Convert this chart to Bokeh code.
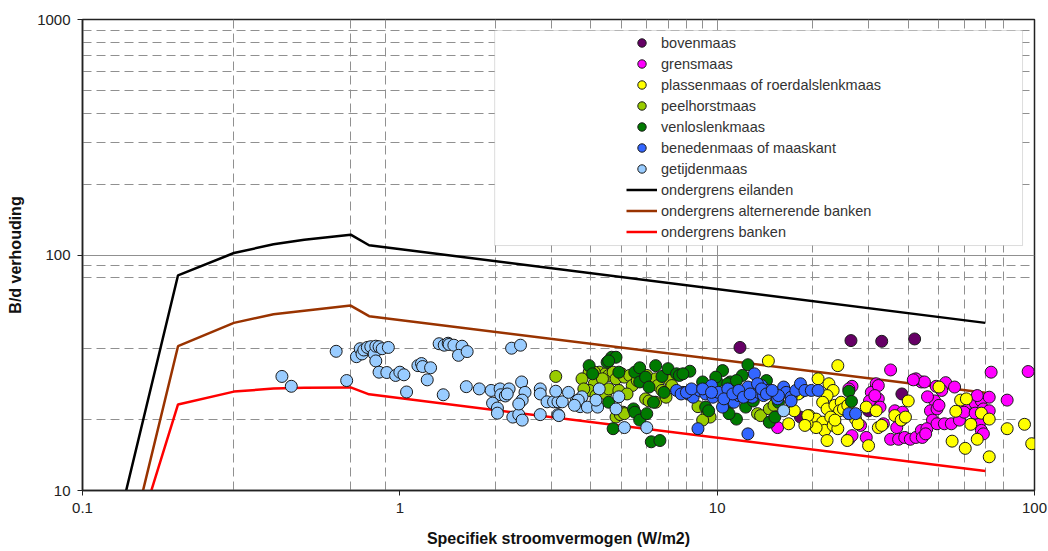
from bokeh.plotting import figure
from bokeh.models import (Range1d, FixedTicker, Grid, BoxAnnotation, Legend,
                          LegendItem, CustomJSTickFormatter)
from bokeh.embed import file_html
from bokeh.resources import INLINE

# ---------------- data ----------------
x_ticks = [0.1, 1, 10, 100]
y_ticks = [10, 100, 1000]
x_grid_major = [10]
x_grid_minor = [0.3, 0.7, 0.9, 2, 3, 4, 5, 6, 7, 8, 9, 20, 30, 40, 50, 60, 70, 80]
y_grid_major = [100]
y_grid_minor = [20, 40, 80, 90, 200, 300, 400, 500, 600, 700, 800, 900]

line_x = [0.1, 0.2, 0.3, 0.4, 0.5, 0.7, 0.8, 70]
eilanden = [1.7, 82, 102, 111, 116, 122, 110, 51.5]
alternerende_banken = [0.87, 41, 51.5, 56, 58, 61, 55, 26]
banken = [1.14, 23.2, 26.3, 27.1, 27.3, 27.4, 25.6, 12.1]

bovenmaas = [(11.8, 40.5), (26.4, 43.3), (33, 43), (41.9, 44), (38.2, 25.7), (30, 21.8),
             (18.3, 20.5), (23.5, 18.9)]

grensmaas = [(35.2, 32.5), (31.7, 28.4), (30.6, 26.1), (26.6, 27.7), (32.2, 24.5), (32.6, 22.6),
             (28.3, 18.9), (29.5, 16.8), (26, 16.5), (33.4, 19.2), (36.3, 21.8), (38.4, 21.5),
             (38, 19.9), (36.8, 18.5), (35.2, 16.5), (37.3, 16.5), (39, 16.8), (40.6, 16.5),
             (42.3, 16.8), (44, 18), (44, 28.9), (42.3, 29.8), (45, 28.9), (48.5, 24), (47, 21.8),
             (49.3, 22.2), (47.7, 19.9), (45.8, 18.3), (44.3, 16.8), (45.4, 17.4), (52.5, 28.7),
             (56, 27.5), (51, 26.6), (49.3, 19.2), (52, 19.2), (54.7, 19.2), (58, 19.9), (60.5, 23),
             (60, 21.5), (65, 23.5), (68, 24), (72, 24.9), (69, 22.2), (72, 21.8), (67, 19.2),
             (68, 18), (69, 17.4), (65, 21.3), (73, 31.8), (82, 24.2), (95.5, 32), (66, 25.3),
             (41.5, 29.5), (49, 27.7), (15.5, 18.5), (26.6, 17.1), (26, 27), (30.2, 24),
             (32.2, 27.9), (31.4, 25.3), (23.5, 19.2), (46, 25), (50, 23)]

plassenmaas = [(24, 33.9), (20.8, 29.8), (22.5, 28.4), (23.2, 26.6), (22.2, 25.3), (21.5, 23.7),
               (22.2, 22.2), (23.5, 23), (24.6, 23.7), (24.3, 21.8), (25, 22.2), (25.8, 23),
               (19.5, 20.8), (20.5, 20.1), (21.5, 19.5), (21.8, 18), (22.8, 20.5), (23.2, 18.9),
               (24, 18.3), (20.5, 18.5), (22.2, 16.3), (25.7, 16.3), (30, 15.5), (27.3, 20.1),
               (27.8, 19.2), (29.5, 22.6), (31.7, 21.8), (32.2, 18.5), (33, 18.9), (40, 24),
               (36.3, 20.8), (38, 19.9), (39.2, 20.5), (50, 27.5), (58.5, 24.2), (61, 24.5),
               (56.5, 21.7), (68, 21.3), (72, 20.1), (63, 19.1), (55, 16.2), (60.5, 15.1),
               (66, 16.5), (72, 13.9), (82, 18.3), (93, 19.1), (98, 15.8), (14.5, 35.5),
               (18.3, 26.1), (16.8, 19.2), (19.2, 19.2), (18, 25.7), (15, 22.2), (19.3, 20.8),
               (18.9, 18.9), (17.5, 21.8), (23.5, 19.9)]

peelhorstmaas = [(3.1, 30.5), (3.95, 31.8), (4.1, 28.4), (4.25, 31.8), (4.35, 30.3), (4.45, 31.3),
                 (4.55, 30.8), (4.7, 31.8), (4.8, 29.8), (5.0, 31.3), (5.1, 30.3), (5.3, 30.8),
                 (5.4, 27.9), (5.6, 29.3), (5.8, 30.3), (6.0, 30.8), (6.2, 28.4), (6.4, 29.8),
                 (6.5, 27.9), (6.7, 26.6), (6.9, 30.8), (7.1, 29.3), (7.2, 27.9), (3.95, 26.6),
                 (4.15, 25.3), (4.45, 25.7), (4.55, 27), (4.9, 26.6), (5.2, 25.7), (5.05, 21.5),
                 (4.8, 20.5), (4.95, 21), (5.95, 24.5), (6.1, 24), (6.4, 23.7), (6.9, 24.9),
                 (3.75, 29.8), (3.8, 27), (4.1, 31.8), (4.35, 29.8), (5.1, 21.2), (8.7, 22.7),
                 (9.3, 21.2), (9.5, 20.5), (13.4, 21.2), (13.7, 20.8), (9.0, 19.9), (14.6, 22.2),
                 (15.1, 23)]

venloslenkmaas = [(3.95, 33.9), (4.5, 35), (4.65, 36.8), (4.8, 36.8), (4.55, 35.5), (4.05, 31.3),
                  (4.9, 31.8), (5.5, 31.8), (5.7, 33.2), (5.7, 28.9), (5.95, 30.3), (6.1, 27.5),
                  (6.4, 33.9), (6.7, 30.5), (7.0, 32.9), (7.45, 31.3), (6.8, 26.1), (6.3, 23.7),
                  (4.55, 23.7), (5.45, 22.2), (5.5, 21.5), (5.7, 19.9), (6.0, 21.2), (4.7, 18.3),
                  (6.2, 16.1), (6.6, 16.3), (7.6, 30.8), (8.2, 32.1), (9.0, 28.9), (10.0, 28.9),
                  (10.4, 32.3), (11.0, 28.9), (12.0, 30.8), (12.5, 34.2), (9.2, 22.6), (9.4, 21.8),
                  (11.5, 20.1), (14.6, 19.5), (15.2, 20.5), (7.8, 31.3), (8.3, 25.7), (9.9, 30.3),
                  (10.8, 28.4), (11.5, 29.3), (11.1, 23.7), (10.9, 21.2), (14.3, 29.3), (12.3, 22.6),
                  (13.0, 24), (15.6, 23.7), (26, 26.4), (26.5, 23.9)]

benedenmaas = [(7.8, 26.1), (8.1, 25.7), (8.4, 24.9), (8.8, 26.6), (9.2, 25.7), (9.6, 27.9),
               (9.7, 24.9), (10.1, 26.1), (10.4, 22.6), (10.8, 27), (11.3, 23.7), (11.7, 25.3),
               (12.1, 26.1), (12.5, 27.5), (13.1, 31.3), (12.9, 24.9), (13.5, 26.1), (13.8, 27.9),
               (14.0, 25.3), (14.5, 26.6), (15.0, 25.7), (15.5, 24.5), (16.2, 27.5), (16.5, 26.1),
               (17.1, 24.9), (17.7, 26.6), (18.3, 28.4), (15.6, 25.3), (8.7, 18.3), (12.5, 17.4),
               (7.45, 26.6), (7.7, 25.7), (8.0, 26.1), (8.3, 27), (9.0, 27), (9.6, 26.1),
               (10.5, 24.5), (11.2, 25.7), (11.7, 26.6), (12.1, 24.9), (12.7, 25.7), (13.4, 28.4),
               (13.8, 27), (14.3, 25.7), (14.9, 26.6), (17.1, 24), (18.9, 26.6), (19.8, 26.6),
               (20.8, 26.6), (26, 21.2), (27.3, 21.2)]

getijdenmaas = [(0.425, 30.5), (0.455, 27.7), (0.63, 39), (0.68, 29.3), (0.73, 37), (0.75, 40),
                (0.76, 38), (0.77, 39.5), (0.79, 40.5), (0.81, 40.8), (0.83, 38), (0.84, 41),
                (0.84, 35.5), (0.86, 40.8), (0.86, 31.8), (0.88, 40), (0.91, 31.7), (0.92, 40.5),
                (0.97, 30.8), (1.0, 31.8), (1.03, 31), (1.05, 26.2), (1.14, 33.9), (1.17, 34.6),
                (1.18, 33.6), (1.25, 33.2), (1.22, 29.5), (1.33, 42), (1.38, 41.4), (1.42, 42.2),
                (1.43, 41.7), (1.48, 41.4), (1.57, 41), (1.53, 37.5), (1.63, 38.9), (1.37, 25.5),
                (1.62, 27.6), (1.78, 27), (1.94, 26.6), (2.07, 27), (2.21, 27), (2.08, 25.5),
                (2.15, 25.2), (2.18, 25.7), (2.25, 40.2), (2.4, 41.4), (1.96, 23.5), (2.03, 22.4),
                (2.03, 21.3), (2.27, 20.5), (2.37, 21), (2.43, 19.9), (2.42, 28.9), (2.48, 26.1),
                (2.43, 24.2), (2.37, 23.3), (2.77, 27), (2.77, 25.7), (2.91, 23.8), (3.05, 23.8),
                (3.15, 23.8), (3.25, 23.8), (2.77, 21), (3.1, 26.4), (3.4, 26.1), (3.15, 21),
                (3.6, 24), (3.7, 22.7), (3.75, 25), (3.17, 20.8), (3.65, 24.2), (3.55, 23),
                (3.9, 22.6), (4.2, 22.6), (4.25, 27), (4.15, 24.2), (4.9, 25), (4.8, 22.2),
                (5.1, 18.5), (6.0, 18.5), (16.2, 21.8)]

series = [
    ("bovenmaas", bovenmaas, "#660066"),
    ("grensmaas", grensmaas, "#ff00ff"),
    ("plassenmaas of roerdalslenkmaas", plassenmaas, "#ffff00"),
    ("peelhorstmaas", peelhorstmaas, "#99cc00"),
    ("venloslenkmaas", venloslenkmaas, "#007a00"),
    ("benedenmaas of maaskant", benedenmaas, "#3366ff"),
    ("getijdenmaas", getijdenmaas, "#99ccff"),
]
lines = [
    ("ondergrens eilanden", eilanden, "#000000"),
    ("ondergrens alternerende banken", alternerende_banken, "#993300"),
    ("ondergrens banken", banken, "#ff0000"),
]

FONT = "Liberation Sans"

# ---------------- figure ----------------
p = figure(width=1048, height=551, x_axis_type="log", y_axis_type="log",
           x_range=Range1d(0.1, 100), y_range=Range1d(10, 1000),
           output_backend="svg", toolbar_location=None,
           min_border_left=82, min_border_right=14, min_border_top=19, min_border_bottom=61,
           background_fill_color="white", border_fill_color="white")
p.xgrid.visible = False
p.ygrid.visible = False
p.outline_line_color = "#222222"
p.outline_line_width = 1.5

for dim, ticks, dash in [(0, x_grid_minor, "9 5"), (1, y_grid_minor, "9 5"),
                         (0, x_grid_major, "solid"), (1, y_grid_major, "solid")]:
    p.add_layout(Grid(dimension=dim, ticker=FixedTicker(ticks=ticks),
                      grid_line_color="#909090", grid_line_width=1, grid_line_dash=dash))

for ax, ticks in [(p.xaxis[0], x_ticks), (p.yaxis[0], y_ticks)]:
    ax.ticker = FixedTicker(ticks=ticks, minor_ticks=[])
    ax.formatter = CustomJSTickFormatter(code="return String(tick)")
    ax.axis_line_color = "#222222"
    ax.axis_line_width = 1.5
    ax.major_tick_line_color = "#222222"
    ax.major_tick_out = 5
    ax.major_tick_in = 0
    ax.minor_tick_out = 0
    ax.minor_tick_in = 0
    ax.major_label_text_font = FONT
    ax.major_label_text_font_size = "15px"
    ax.major_label_text_color = "#222222"
    ax.major_label_standoff = 7
    ax.axis_label_text_font = FONT
    ax.axis_label_text_font_style = "bold"
    ax.axis_label_text_font_size = "16px"
    ax.axis_label_text_color = "#111111"
    ax.axis_label_standoff = 14

p.xaxis.axis_label = "Specifiek stroomvermogen (W/m2)"
p.yaxis.axis_label = "B/d verhouding"
p.yaxis.axis_label_standoff = 10

line_renderers = []
for name, ys, col in lines:
    r = p.line(line_x, ys, line_color=col, line_width=2.5)
    line_renderers.append((name, r))

scatter_renderers = []
for name, pts, col in series:
    xs = [a for a, b in pts]
    ys = [b for a, b in pts]
    r = p.scatter(xs, ys, marker="circle", size=12, fill_color=col,
                  line_color="#1a1a1a", line_width=1)
    scatter_renderers.append((name, r))

p.add_layout(BoxAnnotation(left=1.99, right=91.7, bottom=109.7, top=898,
                           fill_color="white", fill_alpha=1.0,
                           line_color="#8a8a8a", line_width=1))

items = [LegendItem(label=n, renderers=[r]) for n, r in scatter_renderers + line_renderers]
legend = Legend(items=items, location=(544, 248), orientation="vertical",
                border_line_alpha=0, background_fill_alpha=0, padding=0, margin=0,
                spacing=0, glyph_height=21, glyph_width=31, label_height=21,
                label_standoff=4, label_text_font=FONT, label_text_font_size="14.5px",
                label_text_color="#333333", label_text_baseline="middle")
p.add_layout(legend)

open("out.html", "w").write(file_html(p, INLINE))
